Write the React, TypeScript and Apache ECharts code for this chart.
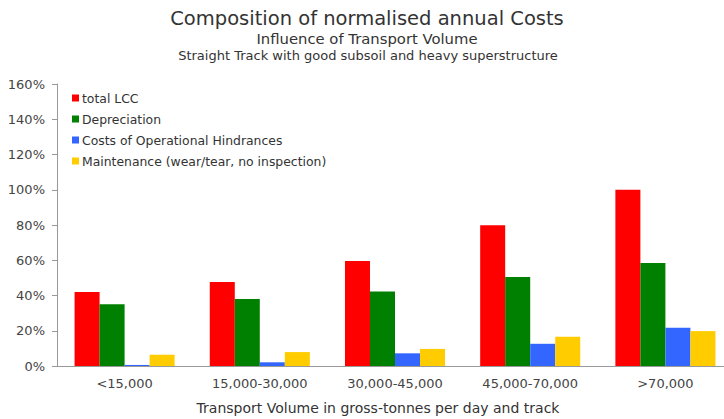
import React, { useEffect, useRef } from "react";
import * as echarts from "echarts";

const categories = ["<15,000", "15,000-30,000", "30,000-45,000", "45,000-70,000", ">70,000"];
const totalLCC = [42, 47.6, 59.6, 79.8, 100];
const depreciation = [35, 38, 42.3, 50.5, 58.5];
const hindrances = [0.6, 2.1, 7.2, 12.6, 21.7];
const maintenance = [6.4, 7.9, 9.7, 16.6, 19.8];
const seriesNames = [
  "total LCC",
  "Depreciation",
  "Costs of Operational Hindrances",
  "Maintenance (wear/tear, no inspection)",
];
const colors = ["#ff0000", "#008000", "#3366ff", "#ffcc00"];

const FONT = "DejaVu Sans";

export default function App() {
  const ref = useRef<HTMLDivElement>(null);
  useEffect(() => {
    const chart = echarts.init(ref.current!, null, { renderer: "svg" });
    const data = [totalLCC, depreciation, hindrances, maintenance];
    chart.setOption({
      animation: false,
      textStyle: { fontFamily: FONT },
      graphic: [
        {
          type: "text",
          x: 367,
          y: 18,
          style: {
            text: "Composition of normalised annual Costs",
            font: `19.5px '${FONT}'`,
            fill: "#333",
            textAlign: "center",
            textVerticalAlign: "middle",
          },
        },
        {
          type: "text",
          x: 367,
          y: 38,
          style: {
            text: "Influence of Transport Volume",
            font: `14.8px '${FONT}'`,
            fill: "#333",
            textAlign: "center",
            textVerticalAlign: "middle",
          },
        },
        {
          type: "text",
          x: 368,
          y: 55,
          style: {
            text: "Straight Track with good subsoil and heavy superstructure",
            font: `13px '${FONT}'`,
            fill: "#333",
            textAlign: "center",
            textVerticalAlign: "middle",
          },
        },
        {
          type: "text",
          x: 378,
          y: 408,
          style: {
            text: "Transport Volume in gross-tonnes per day and track",
            font: `14px '${FONT}'`,
            fill: "#333",
            textAlign: "center",
            textVerticalAlign: "middle",
          },
        },
      ],
      legend: {
        orient: "vertical",
        left: 67,
        top: 87,
        itemWidth: 7,
        itemHeight: 7,
        itemGap: 9,
        icon: "rect",
        textStyle: { fontSize: 12.4, color: "#333", fontFamily: FONT, padding: [0, 0, 0, -2] },
        data: seriesNames,
      },
      grid: { left: 57, right: 0, top: 84, bottom: 53, containLabel: false },
      xAxis: {
        type: "category",
        data: categories,
        axisLine: { lineStyle: { color: "#999" } },
        axisTick: { lineStyle: { color: "#999" }, length: 5 },
        axisLabel: { color: "#444", fontSize: 13, margin: 11, fontFamily: FONT },
      },
      yAxis: {
        type: "value",
        min: 0,
        max: 160,
        interval: 20,
        axisLine: { show: true, lineStyle: { color: "#999" } },
        axisTick: { show: true, lineStyle: { color: "#999" }, length: 5 },
        splitLine: { show: false },
        axisLabel: { color: "#444", fontSize: 13, margin: 12, formatter: "{value}%", fontFamily: FONT },
      },
      series: seriesNames.map((n, i) => ({
        name: n,
        type: "bar",
        data: data[i],
        barGap: "0%",
        barCategoryGap: "26%",
        itemStyle: { color: colors[i] },
      })),
    });
    return () => chart.dispose();
  }, []);
  return (
    <div
      style={{
        position: "fixed",
        left: 0,
        top: 0,
        width: 724,
        height: 419,
        overflow: "hidden",
        background: "#fff",
      }}
    >
      <div ref={ref} style={{ width: 733, height: 419 }} />
    </div>
  );
}
